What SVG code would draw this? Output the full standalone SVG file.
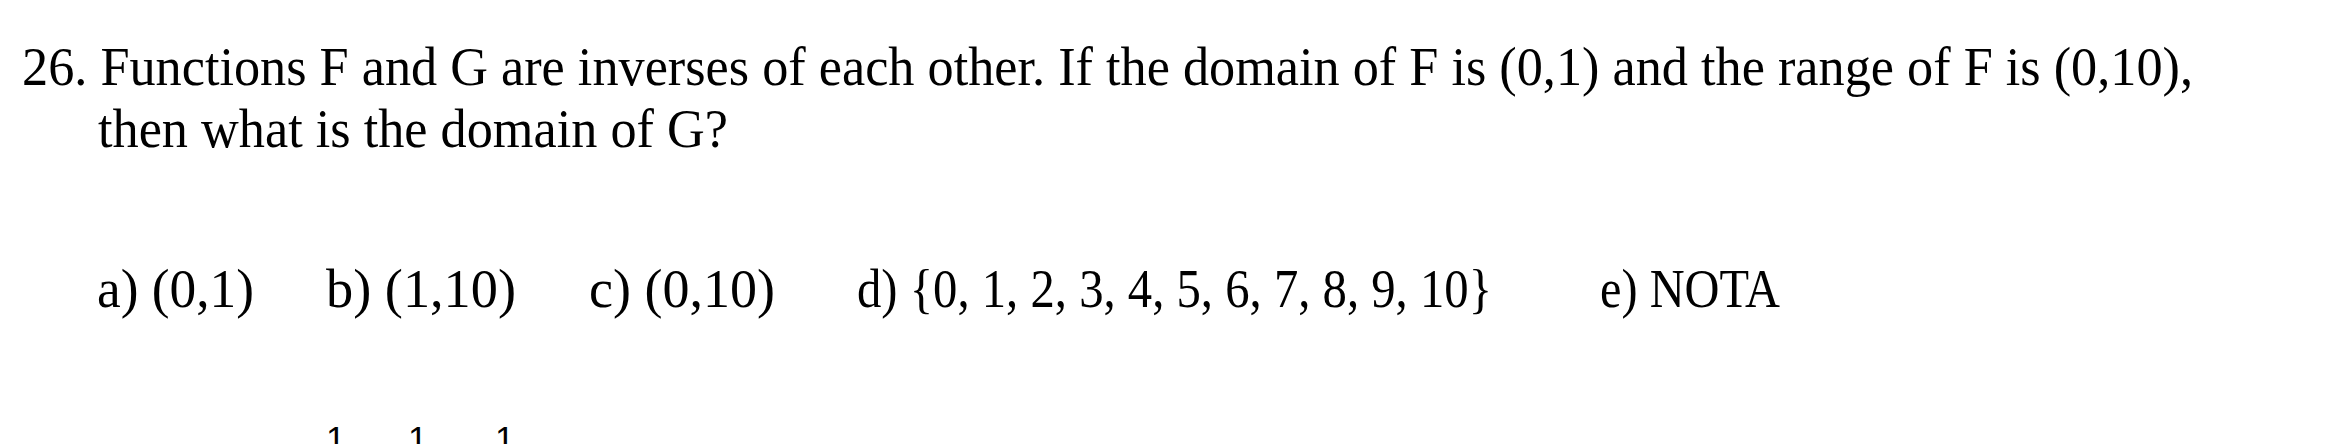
<svg xmlns="http://www.w3.org/2000/svg" width="2345" height="444" viewBox="0 0 2345 444">
<style>
.q{font-family:"Liberation Serif","DejaVu Serif",serif;font-size:54px;fill:#000}
.s{font-family:"Liberation Sans","DejaVu Sans",sans-serif;font-size:35px;fill:#000}
</style>
<rect width="2345" height="444" fill="#fff"/>
<g id="question">
<text class="q" x="22" y="85" textLength="2171" lengthAdjust="spacingAndGlyphs">26. Functions F and G are inverses of each other. If the domain of F is (0,1) and the range of F is (0,10),</text>
<text class="q" x="98" y="147" textLength="630" lengthAdjust="spacingAndGlyphs">then what is the domain of G?</text>
</g>
<g id="options">
<text class="q" x="97" y="307" textLength="157" lengthAdjust="spacingAndGlyphs">a) (0,1)</text>
<text class="q" x="326" y="307" textLength="190" lengthAdjust="spacingAndGlyphs">b) (1,10)</text>
<text class="q" x="589" y="307" textLength="186" lengthAdjust="spacingAndGlyphs">c) (0,10)</text>
<text class="q" x="857" y="307" textLength="635" lengthAdjust="spacingAndGlyphs">d) {0, 1, 2, 3, 4, 5, 6, 7, 8, 9, 10}</text>
<text class="q" x="1600" y="307" textLength="180" lengthAdjust="spacingAndGlyphs">e) NOTA</text>
</g>
<g id="next-line">
<text class="s" x="326" y="451">1</text>
<text class="s" x="408" y="451">1</text>
<text class="s" x="495" y="451">1</text>
</g>
</svg>
